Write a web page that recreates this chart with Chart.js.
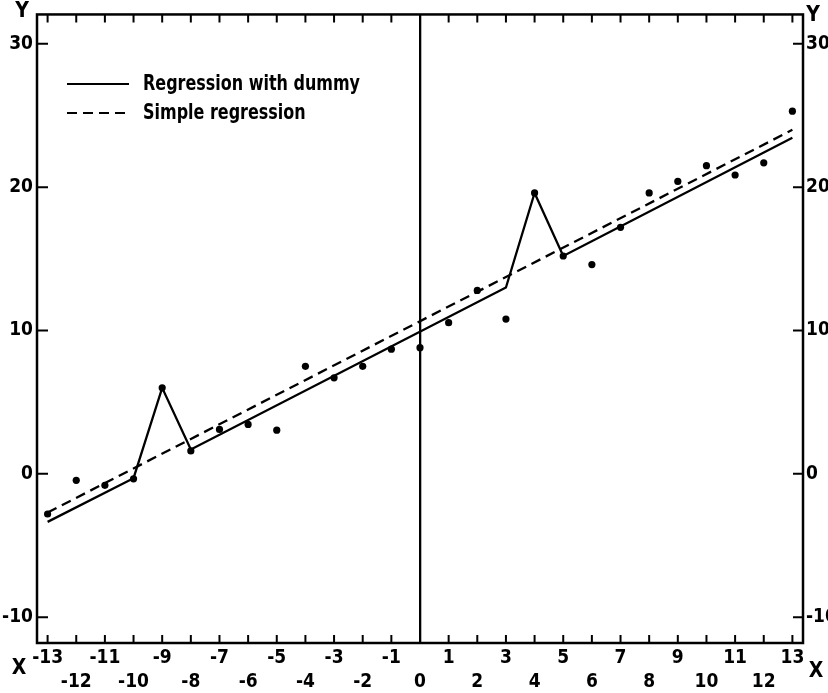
<!DOCTYPE html>
<html>
<head>
<meta charset="utf-8">
<script src="https://cdn.jsdelivr.net/npm/chart.js@4.4.0/dist/chart.umd.min.js"></script>
<style>
  html, body { margin: 0; padding: 0; background: #fff; }
</style>
</head>
<body>
<canvas id="grafica" width="828" height="693"></canvas>
<script>
// Observaciones (puntos)
const obsX = [-13, -12, -11, -10, -9, -8, -7, -6, -5, -4, -3, -2, -1, 0, 1, 2, 3, 4, 5, 6, 7, 8, 9, 10, 11, 12, 13];
const obsY = [-2.8, -0.45, -0.8, -0.35, 6.0, 1.6, 3.1, 3.45, 3.05, 7.5, 6.7, 7.5, 8.7, 8.8,
              10.55, 12.8, 10.8, 19.6, 15.2, 14.6, 17.2, 19.6, 20.4, 21.5, 20.85, 21.7, 25.3];

// Regresión con variable ficticia (vértices de la línea continua)
const dummyX = [-13, -10, -9, -8, 3, 4, 5, 13];
const dummyY = [-3.35, -0.3, 6.0, 1.7, 13.0, 19.6, 15.2, 23.45];

// Regresión simple (línea discontinua)
const simpleX = [-13, 13];
const simpleY = [-2.7, 24.0];

// Marcas de los ejes
const xTicks = [-13, -12, -11, -10, -9, -8, -7, -6, -5, -4, -3, -2, -1, 0, 1, 2, 3, 4, 5, 6, 7, 8, 9, 10, 11, 12, 13];
const yTicks = [-10, 0, 10, 20, 30];

const legendLabels = ['Regression with dummy', 'Simple regression'];

const familia = "'DejaVu Sans Condensed', 'DejaVu Sans', sans-serif";
const xTickFont = { family: familia, weight: 'bold', size: 19, lineHeight: 1.263 };
const yTickFont = { family: familia, weight: 'bold', size: 19, lineHeight: 1.1 };

const puntos = (xs, ys) => xs.map((x, i) => ({ x: x, y: ys[i] }));

// Dibuja marco, marcas interiores, letras X/Y y leyenda
const marcos = {
    id: 'marcos',
    afterDraw(chart) {
        const { ctx, chartArea: a, scales } = chart;
        ctx.save();
        ctx.strokeStyle = '#000';
        ctx.fillStyle = '#000';

        ctx.lineWidth = 2.5;
        ctx.strokeRect(a.left, a.top, a.right - a.left, a.bottom - a.top);

        ctx.lineWidth = 2;
        ctx.beginPath();
        xTicks.forEach(v => {
            const px = scales.x.getPixelForValue(v);
            ctx.moveTo(px, a.bottom);
            ctx.lineTo(px, a.bottom - 8);
            ctx.moveTo(px, a.top);
            ctx.lineTo(px, a.top + 8);
        });
        yTicks.forEach(v => {
            const py = scales.y.getPixelForValue(v);
            ctx.moveTo(a.left, py);
            ctx.lineTo(a.left + 11, py);
            ctx.moveTo(a.right, py);
            ctx.lineTo(a.right - 10, py);
        });
        ctx.stroke();

        // letras de los ejes
        ctx.font = "bold 21px " + familia;
        ctx.textAlign = 'center';
        ctx.textBaseline = 'middle';
        ctx.fillText('X', 19, 669);
        ctx.fillText('X', 816, 672);
        ctx.fillText('Y', 22, 12);
        ctx.fillText('Y', 813, 16);

        // leyenda (texto comprimido horizontalmente, como el original)
        ctx.font = "bold 22px 'DejaVu Sans', sans-serif";
        ctx.textAlign = 'left';
        ctx.textBaseline = 'alphabetic';
        const sx = 217 / ctx.measureText(chart.data.datasets[0].label).width;
        const filas = [{ ds: chart.data.datasets[0], yl: 84, yt: 90 }, { ds: chart.data.datasets[1], yl: 113, yt: 119 }];
        filas.forEach(f => {
            ctx.lineWidth = 2;
            ctx.setLineDash(f.ds.borderDash || []);
            ctx.beginPath();
            ctx.moveTo(67, f.yl);
            ctx.lineTo(129, f.yl);
            ctx.stroke();
            ctx.setLineDash([]);
            ctx.save();
            ctx.translate(143, f.yt);
            ctx.scale(sx, 1);
            ctx.fillText(f.ds.label, 0, 0);
            ctx.restore();
        });
        ctx.restore();
    }
};

const grafica = new Chart(document.getElementById('grafica'), {
    type: 'scatter',
    data: {
        datasets: [
            {
                label: legendLabels[0],
                data: puntos(dummyX, dummyY),
                showLine: true,
                borderColor: '#000',
                borderWidth: 2.3,
                pointRadius: 0,
                tension: 0
            },
            {
                label: legendLabels[1],
                data: puntos(simpleX, simpleY),
                showLine: true,
                borderColor: '#000',
                borderWidth: 2.3,
                borderDash: [10, 6],
                pointRadius: 0
            },
            {
                label: 'Observations',
                data: puntos(obsX, obsY),
                pointRadius: 3.6,
                pointBackgroundColor: '#000',
                pointBorderColor: '#000',
                pointBorderWidth: 0
            }
        ]
    },
    options: {
        responsive: false,
        animation: false,
        devicePixelRatio: 1,
        layout: { padding: { top: 14, left: 0, right: 0, bottom: 0 } },
        plugins: {
            legend: { display: false },
            tooltip: { enabled: false }
        },
        scales: {
            x: {
                type: 'linear',
                min: -13.37,
                max: 13.37,
                afterBuildTicks: scale => { scale.ticks = xTicks.map(v => ({ value: v })); },
                afterFit: scale => { scale.height = 50; },
                border: { display: false },
                grid: {
                    drawTicks: false,
                    color: c => (c.tick && c.tick.value === 0 ? '#000' : 'rgba(0,0,0,0)'),
                    lineWidth: 2.3
                },
                ticks: {
                    autoSkip: false,
                    maxRotation: 0,
                    minRotation: 0,
                    padding: 3,
                    color: '#000',
                    font: xTickFont,
                    callback: v => (Math.abs(v) % 2 === 1 ? [String(v), ''] : ['', String(v)])
                }
            },
            y: {
                type: 'linear',
                position: 'left',
                min: -11.8,
                max: 32.05,
                afterBuildTicks: scale => { scale.ticks = yTicks.map(v => ({ value: v })); },
                afterFit: scale => { scale.width = 37; },
                border: { display: false },
                grid: { display: false, drawTicks: false },
                ticks: { padding: 4, color: '#000', font: yTickFont }
            },
            y2: {
                type: 'linear',
                position: 'right',
                min: -11.8,
                max: 32.05,
                afterBuildTicks: scale => { scale.ticks = yTicks.map(v => ({ value: v })); },
                afterFit: scale => { scale.width = 25; },
                border: { display: false },
                grid: { display: false, drawTicks: false },
                ticks: { padding: 3, color: '#000', font: yTickFont }
            }
        }
    },
    plugins: [marcos]
});
</script>
</body>
</html>
